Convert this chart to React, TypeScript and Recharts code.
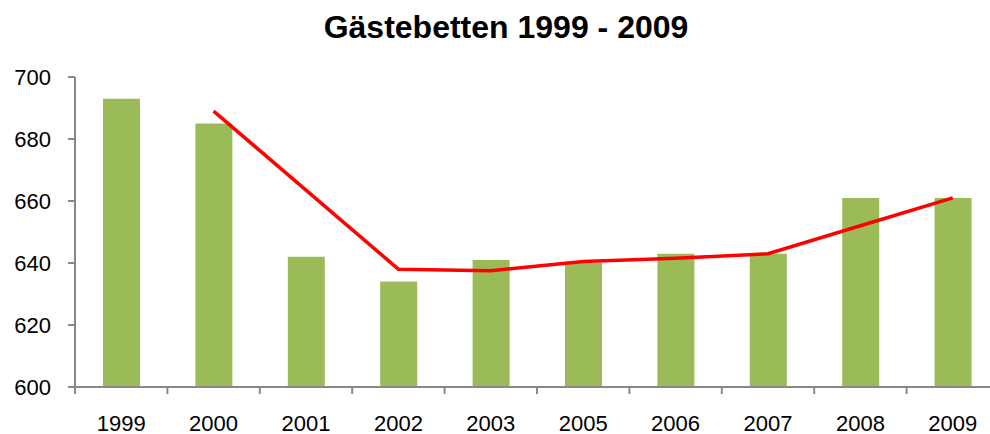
import React from "react";
import {
  ComposedChart,
  Bar,
  Line,
  XAxis,
  YAxis,
} from "recharts";

const years = ["1999", "2000", "2001", "2002", "2003", "2005", "2006", "2007", "2008", "2009"];
const beds = [693, 685, 642, 634, 641, 640, 643, 643, 661, 661];
const trend = [null, 689, 663.5, 638, 637.5, 640.5, 641.5, 643, 652, 661];
const yTicks = [600, 620, 640, 660, 680, 700];

const data = years.map((year, i) => ({
  year,
  beds: beds[i],
  trend: trend[i],
}));

const CHART_W = 1000;
const Y_AXIS_W = 75;
const MARGIN_RIGHT = 1;
const BAND = (CHART_W - Y_AXIS_W - MARGIN_RIGHT) / years.length;
const AXIS_COLOR = "#898989";
const FONT = "'Liberation Sans', Arial, sans-serif";
const X_LABEL_OFFSET = 28;

function XTick(props: any) {
  const { x, y, payload } = props;
  const axisY = y - X_LABEL_OFFSET;
  return (
    <g>
      <line
        x1={x - BAND / 2}
        x2={x - BAND / 2}
        y1={axisY}
        y2={axisY + 7}
        stroke={AXIS_COLOR}
        strokeWidth={2}
      />
      <text
        x={x}
        y={y}
        dy="0.71em"
        textAnchor="middle"
        fontSize={22}
        fontFamily={FONT}
        fill="#000"
      >
        {payload.value}
      </text>
    </g>
  );
}

export default function App() {
  return (
    <div
      style={{
        position: "fixed",
        left: 0,
        top: 0,
        width: 990,
        height: 434,
        overflow: "hidden",
        background: "#fff",
      }}
    >
      <svg
        width={990}
        height={60}
        style={{ position: "absolute", left: 0, top: 0 }}
      >
        <text
          x={506}
          y={38}
          textAnchor="middle"
          fontSize={32}
          fontWeight="bold"
          fontFamily={FONT}
          fill="#000"
        >
          Gästebetten 1999 - 2009
        </text>
      </svg>
      <ComposedChart
        width={CHART_W}
        height={434}
        data={data}
        margin={{ top: 77, right: MARGIN_RIGHT, left: 0, bottom: 0 }}
        style={{ position: "absolute", left: 0, top: 0 }}
      >
        <XAxis
          dataKey="year"
          height={47}
          axisLine={{ stroke: AXIS_COLOR, strokeWidth: 2 }}
          tickLine={false}
          tickSize={0}
          tickMargin={X_LABEL_OFFSET}
          tick={<XTick />}
          interval={0}
        />
        <YAxis
          width={Y_AXIS_W}
          domain={[600, 700]}
          ticks={yTicks}
          allowDataOverflow
          axisLine={{ stroke: AXIS_COLOR, strokeWidth: 2 }}
          tickLine={{ stroke: AXIS_COLOR, strokeWidth: 2 }}
          tickSize={7}
          tickMargin={17}
          tick={{ fontSize: 22, fontFamily: FONT, fill: "#000" }}
        />
        <Bar dataKey="beds" fill="#9BBB59" barSize={37} isAnimationActive={false} />
        <Line
          dataKey="trend"
          stroke="#FF0000"
          strokeWidth={3.5}
          dot={false}
          activeDot={false}
          type="linear"
          isAnimationActive={false}
        />
      </ComposedChart>
    </div>
  );
}
